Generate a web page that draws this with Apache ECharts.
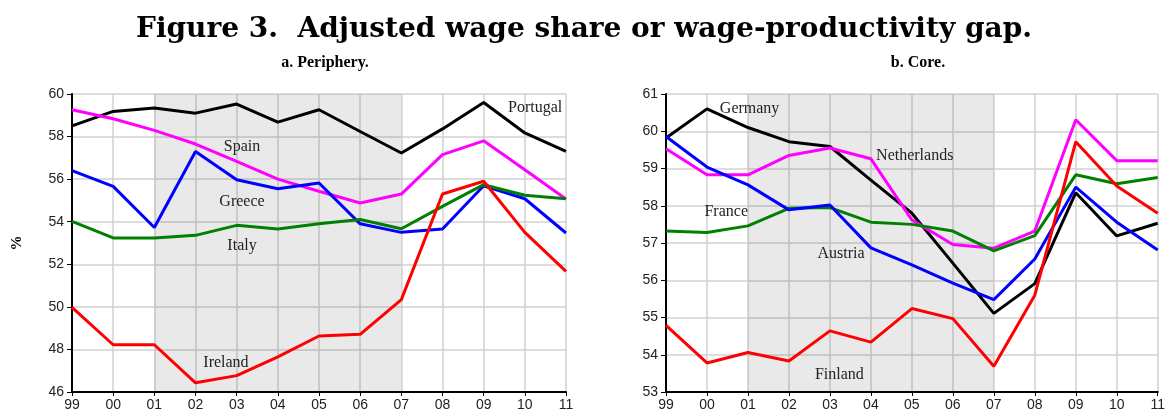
<!DOCTYPE html>
<html>
<head>
<meta charset="utf-8">
<script src="https://cdn.jsdelivr.net/npm/echarts@6/dist/echarts.min.js"></script>
<style>
  html, body { margin: 0; padding: 0; background: #fff; }
  #chart { width: 1168px; height: 414px; }
</style>
</head>
<body>
<div id="chart"></div>
<script>
// years on the x axis (shown as two digits)
var years = ["99", "00", "01", "02", "03", "04", "05", "06", "07", "08", "09", "10", "11"];

// a. Periphery
var portugal = [58.5, 59.18, 59.34, 59.1, 59.53, 58.68, 59.26, 58.24, 57.23, 58.36, 59.6, 58.17, 57.3];
var spain    = [59.26, 58.84, 58.29, 57.65, 56.83, 56.0, 55.43, 54.88, 55.3, 57.15, 57.8, 56.44, 55.07];
var greece   = [56.4, 55.66, 53.73, 57.3, 55.97, 55.55, 55.82, 53.9, 53.5, 53.66, 55.69, 55.08, 53.47];
var italy    = [54.02, 53.24, 53.24, 53.36, 53.83, 53.66, 53.9, 54.1, 53.67, 54.72, 55.74, 55.24, 55.08];
var ireland  = [49.98, 48.22, 48.22, 46.43, 46.77, 47.65, 48.63, 48.71, 50.34, 55.3, 55.9, 53.5, 51.67];

// b. Core
var germany     = [59.82, 60.6, 60.1, 59.72, 59.59, 58.69, 57.8, 56.46, 55.11, 55.91, 58.35, 57.19, 57.53];
var netherlands = [59.53, 58.83, 58.83, 59.35, 59.55, 59.26, 57.62, 56.96, 56.86, 57.32, 60.31, 59.21, 59.21];
var france      = [57.32, 57.28, 57.46, 57.93, 57.95, 57.56, 57.5, 57.32, 56.79, 57.2, 58.83, 58.59, 58.76];
var austria     = [59.86, 59.04, 58.56, 57.89, 58.02, 56.87, 56.41, 55.92, 55.48, 56.57, 58.5, 57.56, 56.81];
var finland     = [54.79, 53.78, 54.06, 53.83, 54.64, 54.34, 55.24, 54.97, 53.69, 55.6, 59.72, 58.53, 57.8];

// shaded period 01-07 (x index)
var shade = [2, 8];

var chart = echarts.init(document.getElementById("chart"));

function pts(arr) {
  return arr.map(function (v, i) { return [i, v]; });
}

var labelFont = { fontFamily: "Liberation Serif", fontSize: 16, color: "#222" };

function line(name, arr, color, grid, lx, ly, withShade) {
  var s = {
    name: name,
    type: "line",
    xAxisIndex: grid,
    yAxisIndex: grid,
    data: pts(arr),
    symbol: "none",
    lineStyle: { color: color, width: 3 },
    itemStyle: { color: color },
    z: 3,
    markPoint: {
      symbol: "circle",
      symbolSize: 0,
      silent: true,
      label: Object.assign({ show: true, formatter: name, position: "inside" }, labelFont),
      data: [{ coord: [lx, ly] }]
    }
  };
  if (withShade) {
    s.markArea = {
      silent: true,
      itemStyle: { color: "rgba(0,0,0,0.085)" },
      data: [[{ xAxis: shade[0] }, { xAxis: shade[1] }]]
    };
  }
  return s;
}

var gridLine = { show: true, lineStyle: { color: "#d2d2d2", width: 1.5 } };
var tickFont = { fontFamily: "Liberation Sans", fontSize: 14, color: "#222" };

function xAxis(grid) {
  return {
    type: "value",
    gridIndex: grid,
    min: 0,
    max: 12,
    interval: 1,
    axisLine: { lineStyle: { color: "#000", width: 2 } },
    axisTick: { show: true, length: 4, lineStyle: { color: "#000" } },
    axisLabel: Object.assign({ margin: 6, formatter: function (v) { return years[v]; } }, tickFont),
    splitLine: gridLine
  };
}

function yAxis(grid, min, max, step, name) {
  return {
    type: "value",
    gridIndex: grid,
    min: min,
    max: max,
    interval: step,
    name: name,
    nameLocation: "middle",
    nameGap: 47,
    nameRotate: 90,
    nameTextStyle: { fontFamily: "Liberation Serif", fontWeight: "bold", fontSize: 15, color: "#000" },
    axisLine: { show: true, lineStyle: { color: "#000", width: 2 } },
    axisTick: { show: true, length: 5, lineStyle: { color: "#000" } },
    axisLabel: Object.assign({ margin: 8 }, tickFont),
    splitLine: gridLine
  };
}

var option = {
  animation: false,
  title: [
    {
      text: "Figure 3.  Adjusted wage share or wage-productivity gap.",
      left: "center",
      top: 11,
      textStyle: { fontFamily: "DejaVu Serif", fontWeight: "bold", fontSize: 28, color: "#000" }
    },
    {
      text: "a. Periphery.",
      left: 320,
      textAlign: "center",
      top: 50,
      textStyle: { fontFamily: "Liberation Serif", fontWeight: "bold", fontSize: 16, color: "#000" }
    },
    {
      text: "b. Core.",
      left: 913,
      textAlign: "center",
      top: 50,
      textStyle: { fontFamily: "Liberation Serif", fontWeight: "bold", fontSize: 16, color: "#000" }
    }
  ],
  grid: [
    { left: 72, right: 602, top: 94, bottom: 22 },
    { left: 666, right: 8, top: 94, bottom: 22 }
  ],
  xAxis: [xAxis(0), xAxis(1)],
  yAxis: [yAxis(0, 46, 60, 2, "%"), yAxis(1, 53, 61, 1, "")],
  series: [
    line("Portugal", portugal, "#000000", 0, 11.25, 59.36, true),
    line("Spain", spain, "#ff00ff", 0, 4.13, 57.52),
    line("Greece", greece, "#0000ff", 0, 4.13, 54.93),
    line("Italy", italy, "#008000", 0, 4.13, 52.87),
    line("Ireland", ireland, "#ff0000", 0, 3.74, 47.39),

    line("Germany", germany, "#000000", 1, 2.04, 60.6, true),
    line("Netherlands", netherlands, "#ff00ff", 1, 6.07, 59.34),
    line("France", france, "#008000", 1, 1.47, 57.83),
    line("Austria", austria, "#0000ff", 1, 4.27, 56.7),
    line("Finland", finland, "#ff0000", 1, 4.23, 53.45)
  ]
};

chart.setOption(option);
</script>
</body>
</html>
